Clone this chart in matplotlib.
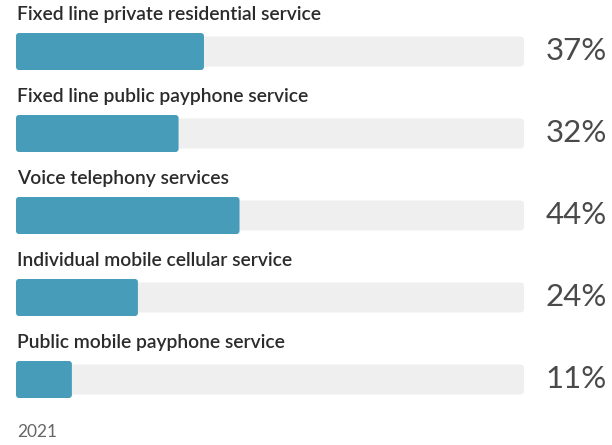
import matplotlib
matplotlib.use("Agg")
import matplotlib.pyplot as plt
from matplotlib.patches import FancyBboxPatch

categories = [
    "Fixed line private residential service",
    "Fixed line public payphone service",
    "Voice telephony services",
    "Individual mobile cellular service",
    "Public mobile payphone service",
]
values = [37, 32, 44, 24, 11]
value_labels = ["37%", "32%", "44%", "24%", "11%"]
year_label = "2021"

W, H = 612, 445
fig = plt.figure(figsize=(W / 100, H / 100), dpi=100)
fig.patch.set_facecolor("white")

row0, step = 51.5, 82.0
ax_left, ax_right = 16, 524
ax = fig.add_axes([ax_left / W, 0, (ax_right - ax_left) / W, 1])
ax.set_xlim(0, 100)
ax.set_ylim((H - row0) / step, -row0 / step)
ax.axis("off")

px_per_x = (ax_right - ax_left) / 100.0
aspect = px_per_x / step

def rounded(container, radius_px, color):
    for p in container.patches:
        x, y = p.get_x(), p.get_y()
        w, h = p.get_width(), p.get_height()
        p.remove()
        fb = FancyBboxPatch((x, y), w, h,
                            boxstyle=f"round,pad=0,rounding_size={radius_px / px_per_x}",
                            mutation_aspect=aspect, facecolor=color, edgecolor="none")
        ax.add_patch(fb)

ys = list(range(len(categories)))
bg = ax.barh(ys, [100] * len(ys), height=30 / step, color="#efefef", edgecolor="none")
rounded(bg, 4, "#efefef")
fg = ax.barh(ys, values, height=37 / step, color="#479cba", edgecolor="none")
rounded(fg, 3, "#479cba")

for y, cat, lab in zip(ys, categories, value_labels):
    ax.text(0.2, y - 31.5 / step, cat, ha="left", va="baseline",
            fontsize=13.9, family=["Lato", "DejaVu Sans"], fontweight="semibold", color="#2b2b2b")
    ax.text(607 / W, 1 - (row0 + y * step) / H, lab, transform=fig.transFigure,
            ha="right", va="center", fontsize=22.5, family=["Lato", "DejaVu Sans"],
            fontweight="normal", color="#4a4a4a")

fig.text(17 / W, 1 - 432 / H, year_label, ha="left", va="center",
         fontsize=12.5, family=["Lato", "DejaVu Sans"], color="#666666")

fig.savefig("out.png", dpi=100, facecolor="white")
